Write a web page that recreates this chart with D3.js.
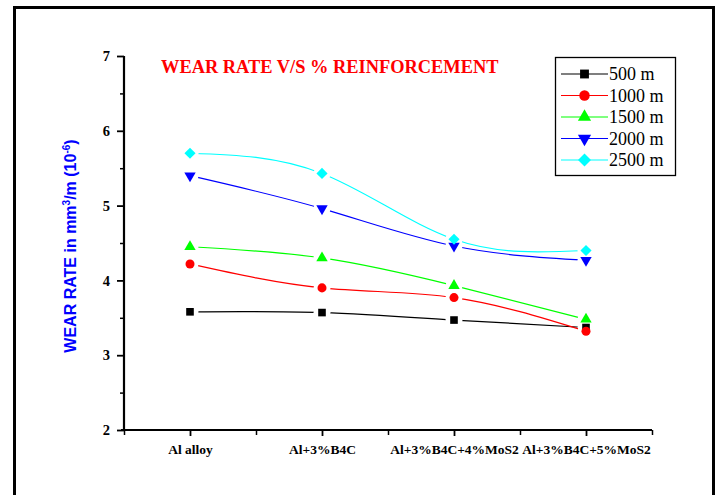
<!DOCTYPE html>
<html>
<head>
<meta charset="utf-8">
<script src="https://cdn.jsdelivr.net/npm/d3@7"></script>
<style>
  html, body { margin: 0; padding: 0; background: #fff; }
  svg { display: block; }
</style>
</head>
<body>
<svg id="chart" width="719" height="495"></svg>
<script>
// ---- data ----
const categories = ["Al alloy", "Al+3%B4C", "Al+3%B4C+4%MoS2", "Al+3%B4C+5%MoS2"];
const seriesNames = ["500 m", "1000 m", "1500 m", "2000 m", "2500 m"];
const values500  = [3.58, 3.57, 3.47, 3.37];
const values1000 = [4.22, 3.90, 3.77, 3.32];
const values1500 = [4.45, 4.30, 3.93, 3.48];
const values2000 = [5.40, 4.96, 4.46, 4.27];
const values2500 = [5.70, 5.43, 4.55, 4.40];
const yTicks = [2, 3, 4, 5, 6, 7];
const yMinorTicks = [2.5, 3.5, 4.5, 5.5, 6.5];
const titleText = "WEAR RATE V/S % REINFORCEMENT";

const seriesValues = [values500, values1000, values1500, values2000, values2500];
const colors = ["#000000", "#ff0000", "#00ff00", "#0000ff", "#00ffff"];
const symbols = [
  {type: d3.symbolSquare, size: 58, rot: 0},
  {type: d3.symbolCircle, size: 64, rot: 0},
  {type: d3.symbolTriangle, size: 56, rot: 0},
  {type: d3.symbolTriangle, size: 56, rot: 180},
  {type: d3.symbolSquare, size: 62, rot: 45}
];

const svg = d3.select("#chart");

// outer frame
svg.append("rect")
  .attr("x", 14.5).attr("y", 7.5).attr("width", 699).attr("height", 520)
  .attr("fill", "none").attr("stroke", "#000").attr("stroke-width", 3);

const x = d3.scaleLinear().domain([0.5, 4.5]).range([124, 652]);
const y = d3.scaleLinear().domain([2, 7]).range([430, 56]);
const catIdx = categories.map((c, i) => i + 1);

// axes
const serif = "'Liberation Serif', 'Times New Roman', serif";

const yAxisMinor = d3.axisLeft(y).tickValues(yMinorTicks).tickSize(4).tickFormat("");
const yAxis = d3.axisLeft(y).tickValues(yTicks).tickSize(7).tickPadding(7).tickFormat(d3.format("d"));
const gy2 = svg.append("g").attr("transform", "translate(124,0)").call(yAxisMinor);
gy2.select(".domain").remove();
gy2.selectAll("line").attr("stroke-width", 1.5);
const gy = svg.append("g").attr("transform", "translate(124,0)").call(yAxis);
gy.select(".domain").attr("stroke-width", 2.2).attr("d", `M0,${y(7)}V${y(2)+1}`);
gy.selectAll(".tick line").attr("stroke-width", 1.8);
gy.selectAll("text").attr("font-family", serif).attr("font-weight", "bold").attr("font-size", 14.5).attr("fill", "#000");

const xAxisMinor = d3.axisBottom(x).tickValues([0.5, 1.5, 2.5, 3.5, 4.5]).tickSize(5).tickFormat("");
const xAxis = d3.axisBottom(x).tickValues(catIdx).tickSize(6).tickSizeOuter(0).tickPadding(8)
  .tickFormat((d) => categories[d - 1]);
const gx2 = svg.append("g").attr("transform", "translate(0,430)").call(xAxisMinor);
gx2.select(".domain").remove();
gx2.selectAll("line").attr("stroke-width", 1.5);
const gx = svg.append("g").attr("transform", "translate(0,430)").call(xAxis);
gx.select(".domain").attr("stroke-width", 2.2).attr("d", `M${x(0.5)-3},0H${x(4.5)}`);
gx.selectAll(".tick line").attr("stroke-width", 1.8);
gx.selectAll("text").attr("font-family", serif).attr("font-weight", "bold").attr("font-size", 13.5).attr("fill", "#000");

// title
svg.append("text")
  .attr("x", 161).attr("y", 73)
  .attr("font-family", serif).attr("font-weight", "bold").attr("font-size", 18.4)
  .attr("fill", "#ff0000")
  .text(titleText);

// y label
const yl = svg.append("text")
  .attr("transform", "translate(76,246) rotate(-90)")
  .attr("text-anchor", "middle")
  .attr("font-family", "'Liberation Sans', Arial, sans-serif")
  .attr("font-weight", "bold").attr("font-size", 16)
  .attr("fill", "#0000ff");
yl.append("tspan").text("WEAR RATE in mm");
yl.append("tspan").attr("dy", -6).attr("font-size", 10).text("3");
yl.append("tspan").attr("dy", 6).text("/m (10");
yl.append("tspan").attr("dy", -6).attr("font-size", 10).text("-6");
yl.append("tspan").attr("dy", 6).text(")");

// series
const line = d3.line().x((d, i) => x(i + 1)).y(d => y(d)).curve(d3.curveNatural);
const defs = svg.append("defs");

seriesValues.forEach((vals, si) => {
  const m = defs.append("mask").attr("id", "m" + si)
    .attr("maskUnits", "userSpaceOnUse").attr("x", 0).attr("y", 0).attr("width", 719).attr("height", 495);
  m.append("rect").attr("width", 719).attr("height", 495).attr("fill", "#fff");
  vals.forEach((v, i) => {
    m.append("circle").attr("cx", x(i + 1)).attr("cy", y(v)).attr("r", 8.5).attr("fill", "#000");
  });
  svg.append("path")
    .attr("d", line(vals))
    .attr("fill", "none")
    .attr("stroke", colors[si])
    .attr("stroke-width", 1.2)
    .attr("mask", `url(#m${si})`);
});

seriesValues.forEach((vals, si) => {
  const s = symbols[si];
  const sym = d3.symbol().type(s.type).size(s.size);
  svg.append("g").selectAll("path").data(vals).join("path")
    .attr("d", sym)
    .attr("transform", (d, i) => `translate(${x(i + 1)},${y(d)}) rotate(${s.rot})`)
    .attr("fill", colors[si]);
});

// legend
const lg = svg.append("g");
lg.append("rect").attr("x", 555.5).attr("y", 57.5).attr("width", 120).attr("height", 118)
  .attr("fill", "#fff").attr("stroke", "#000").attr("stroke-width", 1.3);
seriesNames.forEach((name, si) => {
  const cy = 74 + si * 21.5;
  lg.append("line").attr("x1", 561).attr("x2", 608).attr("y1", cy).attr("y2", cy)
    .attr("stroke", colors[si]).attr("stroke-width", 1.2);
  const s = symbols[si];
  lg.append("path").attr("d", d3.symbol().type(s.type).size(s.size * 1.35))
    .attr("transform", `translate(584.5,${cy}) rotate(${s.rot})`)
    .attr("fill", colors[si]);
  lg.append("text").attr("x", 609).attr("y", cy).attr("dy", "0.35em")
    .attr("font-family", serif).attr("font-size", 18).attr("fill", "#000")
    .text(name);
});
</script>
</body>
</html>
